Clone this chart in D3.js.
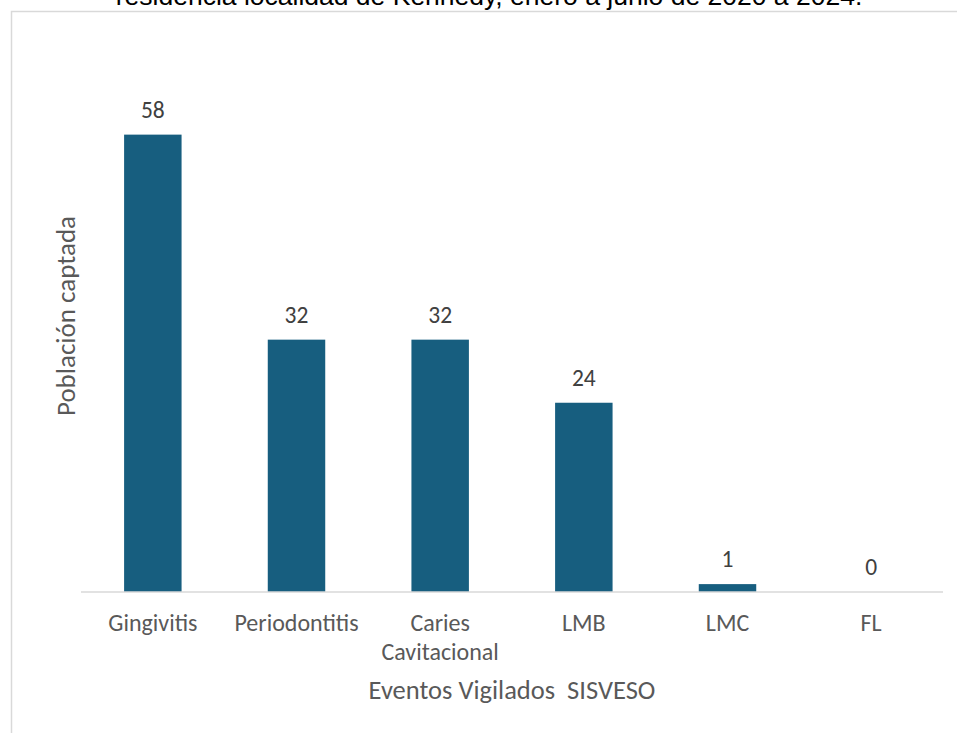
<!DOCTYPE html>
<html>
<head>
<meta charset="utf-8">
<script src="https://cdn.jsdelivr.net/npm/d3@7"></script>
<style>
  html, body { margin: 0; padding: 0; background: #fff; }
  svg { display: block; }
  text { white-space: pre; }
</style>
</head>
<body>
<svg id="chart" width="957" height="733"></svg>
<script>
// Eventos vigilados SISVESO – población captada por evento
const categories = ["Gingivitis", "Periodontitis", "Caries Cavitacional", "LMB", "LMC", "FL"];
const categoryLines = [["Gingivitis"], ["Periodontitis"], ["Caries", "Cavitacional"], ["LMB"], ["LMC"], ["FL"]];
const values = [58, 32, 32, 24, 1, 0];
const titleLine = "residencia localidad de Kennedy, enero a junio de 2020 a 2024.";
const xTitle = "Eventos Vigilados  SISVESO";
const yTitle = "Población captada";

const W = 957, H = 733;
const plot = { left: 81, right: 943, top: 40, bottom: 592 };
const font = "Carlito, Calibri, Lato, 'Open Sans', sans-serif";

const svg = d3.select("#chart");

// Title (continuation line sits at the top edge)
svg.append("text")
  .attr("x", 489).attr("y", 5)
  .attr("text-anchor", "middle")
  .attr("font-family", "'Liberation Sans', Arial, sans-serif")
  .attr("font-size", 26.5)
  .attr("fill", "#000")
  .text(titleLine);

// Chart frame
svg.append("rect")
  .attr("x", 11.5).attr("y", 11.5)
  .attr("width", W + 20).attr("height", H + 20)
  .attr("fill", "none")
  .attr("stroke", "#d9d9d9")
  .attr("stroke-width", 1.5);

const x = d3.scaleBand()
  .domain(categories)
  .range([plot.left, plot.right])
  .paddingInner(0.6)
  .paddingOuter(0.3);

const y = d3.scaleLinear()
  .domain([0, 70])
  .range([plot.bottom, plot.top]);

// Bars
svg.append("g").selectAll("rect")
  .data(values)
  .join("rect")
  .attr("x", (d, i) => x(categories[i]))
  .attr("y", d => y(d))
  .attr("width", x.bandwidth())
  .attr("height", d => y(0) - y(d))
  .attr("fill", "#175e7f");

// Value labels
svg.append("g").selectAll("text")
  .data(values)
  .join("text")
  .attr("x", (d, i) => x(categories[i]) + x.bandwidth() / 2)
  .attr("y", d => y(d) - 17)
  .attr("text-anchor", "middle")
  .attr("font-family", font)
  .attr("font-size", 23.5)
  .attr("fill", "#404040")
  .text(d => d);

// Category axis
const xAxis = svg.append("g")
  .attr("transform", `translate(0,${plot.bottom})`)
  .call(d3.axisBottom(x).tickSize(0).tickFormat(""));
xAxis.select(".domain").attr("stroke", "#d9d9d9").attr("stroke-width", 1.5)
  .attr("d", `M${plot.left},0H${plot.right}`);

const catLabels = svg.append("g").selectAll("text")
  .data(categories)
  .join("text")
  .attr("x", d => x(d) + x.bandwidth() / 2)
  .attr("y", plot.bottom + 39)
  .attr("text-anchor", "middle")
  .attr("font-family", font)
  .attr("font-size", 24)
  .attr("fill", "#595959");
catLabels.each(function(d, i) {
  const t = d3.select(this);
  categoryLines[i].forEach((line, k) => {
    t.append("tspan")
      .attr("x", x(d) + x.bandwidth() / 2)
      .attr("dy", k === 0 ? 0 : 29)
      .text(line);
  });
});

// Axis titles
svg.append("text")
  .attr("x", (plot.left + plot.right) / 2)
  .attr("y", 699)
  .attr("text-anchor", "middle")
  .attr("font-family", font)
  .attr("font-size", 26.5)
  .attr("fill", "#595959")
  .text(xTitle);

svg.append("text")
  .attr("transform", `translate(75,${(plot.top + plot.bottom) / 2}) rotate(-90)`)
  .attr("text-anchor", "middle")
  .attr("font-family", font)
  .attr("font-size", 27)
  .attr("fill", "#595959")
  .text(yTitle);
</script>
</body>
</html>
